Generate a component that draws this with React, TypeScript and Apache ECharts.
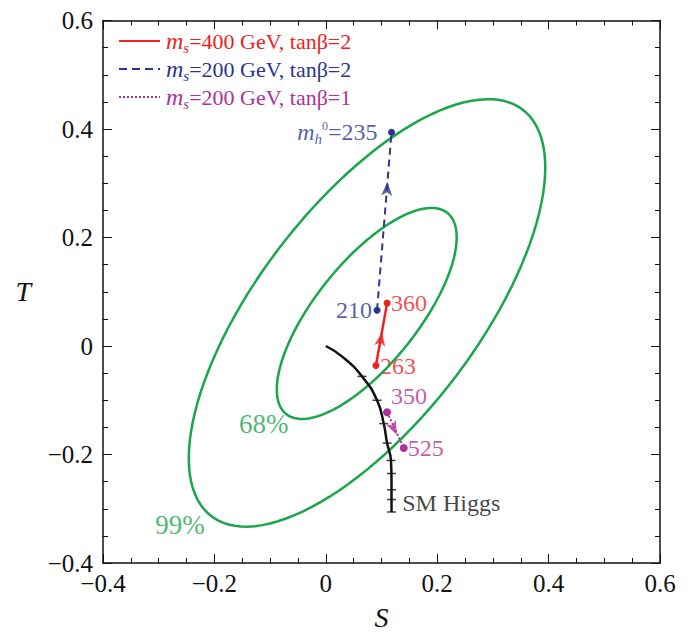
import { useEffect, useRef } from "react";
import * as echarts from "echarts";

// confidence ellipses: center, x half-range, y half-range, cos of phase
const ellipse99 = { cx: 0.074, cy: 0.061, ax: 0.32, ay: 0.394, cphi: 0.68 };
const ellipse68 = { cx: 0.0735, cy: 0.06, ax: 0.1615, ay: 0.1945, cphi: 0.72 };

const smHiggs = [
  [0, 0], [0.03, -0.02], [0.065, -0.056], [0.092, -0.1], [0.104, -0.143],
  [0.11, -0.179], [0.117, -0.211], [0.118, -0.25], [0.118, -0.306],
];
const smTicks = [
  [0.065, -0.056], [0.092, -0.1], [0.104, -0.143], [0.11, -0.179], [0.117, -0.211],
  [0.118, -0.235], [0.118, -0.265], [0.118, -0.283], [0.118, -0.306],
];
const red = [[0.09, -0.036], [0.11, 0.079]];
const blue = [[0.092, 0.066], [0.118, 0.394]];
const magenta = [[0.11, -0.122], [0.14, -0.188]];
const arrows = [
  { p: [0.099, 0.013], rot: -10, c: "#ee2222" },
  { p: [0.11, 0.29], rot: -3, c: "#2b3590" },
  { p: [0.122, -0.152], rot: 205, c: "#b0309a" },
];

const RED = "#ee2222";
const BLUE = "#2b3590";
const MAG = "#b0309a";
const GREEN = "#1aa64a";
const BLACK = "#111";
const FONT = "'Liberation Serif', 'DejaVu Serif', serif";

function ellipsePts(e: typeof ellipse99) {
  const phi = Math.acos(e.cphi);
  const pts: number[][] = [];
  for (let i = 0; i <= 120; i++) {
    const t = (i / 120) * Math.PI * 2;
    pts.push([e.cx + e.ax * Math.cos(t), e.cy + e.ay * Math.cos(t - phi)]);
  }
  return pts;
}

const labels = [
  { p: [0.1, 0.394], text: "{m|m}{h|h}{sup|0}{t|=235}", c: BLUE, pos: "left" },
  { p: [0.09, 0.066], text: "{t|210}", c: BLUE, pos: "left" },
  { p: [0.11, 0.079], text: "{t|360}", c: RED, pos: "right" },
  { p: [0.09, -0.036], text: "{t|263}", c: RED, pos: "right" },
  { p: [0.11, -0.122], text: "{t|350}", c: MAG, pos: "insideBottomLeft" },
  { p: [0.14, -0.188], text: "{t|525}", c: MAG, pos: "right" },
  { p: [0.13, -0.29], text: "{t|SM Higgs}", c: BLACK, pos: "right" },
  { p: [-0.06, -0.143], text: "{g|68%}", c: GREEN, pos: "left" },
  { p: [-0.21, -0.33], text: "{g|99%}", c: GREEN, pos: "left" },
];

export default function App() {
  const ref = useRef<HTMLDivElement>(null);

  useEffect(() => {
    if (!ref.current) return;
    const chart = echarts.init(ref.current, null, { renderer: "svg" });
    const axisCommon = {
      min: -0.4,
      max: 0.6,
      interval: 0.2,
      axisLine: { show: true, onZero: false, lineStyle: { color: BLACK, width: 1.5 } },
      axisTick: { inside: true, length: 9, lineStyle: { color: BLACK } },
      minorTick: { show: true, splitNumber: 4, length: 5, lineStyle: { color: BLACK } },
      splitLine: { show: false },
    };
    const mirror = { ...axisCommon, axisLabel: { show: false }, name: "" };
    const fmt = (v: number) => (Math.abs(v) < 1e-9 ? "0" : String(Number(v.toFixed(1))).replace("-", "\u2212"));
    const rich = {
      m: { fontFamily: FONT, fontStyle: "italic", fontSize: 24 },
      s: { fontFamily: FONT, fontStyle: "italic", fontSize: 15, padding: [13, 0, 0, 0] },
      h: { fontFamily: FONT, fontStyle: "italic", fontSize: 15, padding: [13, 0, 0, 0] },
      sup: { fontFamily: FONT, fontSize: 12, padding: [0, 0, 12, 0] },
      t: { fontFamily: FONT, fontSize: 22 },
    };
    const legendItems = [
      { c: RED, dash: "solid", text: "=400 GeV, tanβ=2", y: 33 },
      { c: BLUE, dash: [8, 5], text: "=200 GeV, tanβ=2", y: 61 },
      { c: MAG, dash: [2, 2], text: "=200 GeV, tanβ=1", y: 89 },
    ];
    const graphic: any[] = [];
    legendItems.forEach((l) => {
      graphic.push({
        type: "line",
        shape: { x1: 111, y1: l.y, x2: 152, y2: l.y },
        style: { stroke: l.c, lineWidth: 2, lineDash: l.dash },
      });
      graphic.push({
        type: "text",
        x: 158,
        y: l.y,
        style: {
          text: "{m|m}{s|s}{t|" + l.text + "}",
          rich: {
            m: { ...rich.m, fill: l.c },
            s: { ...rich.s, fill: l.c },
            t: { ...rich.t, fill: l.c },
          },
          fill: l.c,
          verticalAlign: "middle",
        },
      });
    });

    chart.setOption({
      animation: false,
      textStyle: { fontFamily: FONT },
      grid: { left: 95, right: 28, top: 10, bottom: 61 },
      xAxis: [
        {
          ...axisCommon,
          type: "value",
          position: "bottom",
          name: "S",
          nameLocation: "middle",
          nameGap: 40,
          nameTextStyle: { fontFamily: FONT, fontStyle: "italic", fontSize: 28, color: BLACK },
          axisLabel: { fontFamily: FONT, fontSize: 25, color: BLACK, margin: 8, formatter: fmt },
        },
        { ...mirror, type: "value", position: "top" },
      ],
      yAxis: [
        {
          ...axisCommon,
          type: "value",
          position: "left",
          name: "T",
          nameLocation: "middle",
          nameGap: 72,
          nameRotate: 0,
          nameTextStyle: { fontFamily: FONT, fontStyle: "italic", fontSize: 28, color: BLACK },
          axisLabel: { fontFamily: FONT, fontSize: 25, color: BLACK, margin: 10, formatter: fmt },
        },
        { ...mirror, type: "value", position: "right" },
      ],
      graphic,
      series: [
        { type: "line", data: ellipsePts(ellipse99), showSymbol: false, lineStyle: { color: GREEN, width: 2.5 } },
        { type: "line", data: ellipsePts(ellipse68), showSymbol: false, lineStyle: { color: GREEN, width: 2.5 } },
        { type: "line", data: smHiggs, smooth: true, showSymbol: false, lineStyle: { color: BLACK, width: 2.5 } },
        {
          type: "scatter",
          data: smTicks,
          symbol: "rect",
          symbolSize: [9, 1.5],
          itemStyle: { color: BLACK },
        },
        {
          type: "line", data: red, symbol: "circle", symbolSize: 7,
          lineStyle: { color: RED, width: 2.5 }, itemStyle: { color: RED },
        },
        {
          type: "line", data: blue, symbol: "circle", symbolSize: 7,
          lineStyle: { color: BLUE, width: 2, type: [7, 5] }, itemStyle: { color: BLUE },
        },
        {
          type: "line", data: magenta, symbol: "circle", symbolSize: 8,
          lineStyle: { color: MAG, width: 2, type: [2, 2] }, itemStyle: { color: MAG },
        },
        {
          type: "scatter",
          data: arrows.map((a) => ({ value: a.p, symbolRotate: a.rot, itemStyle: { color: a.c } })),
          symbol: "path://M0,0 L5,12 L0,9 L-5,12 Z",
          symbolSize: [11, 14],
        },
        {
          type: "scatter",
          symbolSize: 0,
          data: labels.map((l) => ({
            value: l.p,
            label: {
              show: true,
              position: l.pos,
              distance: 4,
              formatter: l.text,
              color: l.c,
              fontFamily: FONT,
              fontSize: 24,
              rich: {
                m: { ...rich.m, color: l.c },
                h: { ...rich.h, color: l.c },
                sup: { ...rich.sup, color: l.c },
                t: { fontFamily: FONT, fontSize: 24, color: l.c },
                g: { fontFamily: FONT, fontSize: 27, color: l.c },
              },
            },
          })),
        },
      ],
    });
    return () => chart.dispose();
  }, []);

  return <div ref={ref} style={{ width: 680, height: 628 }} />;
}
